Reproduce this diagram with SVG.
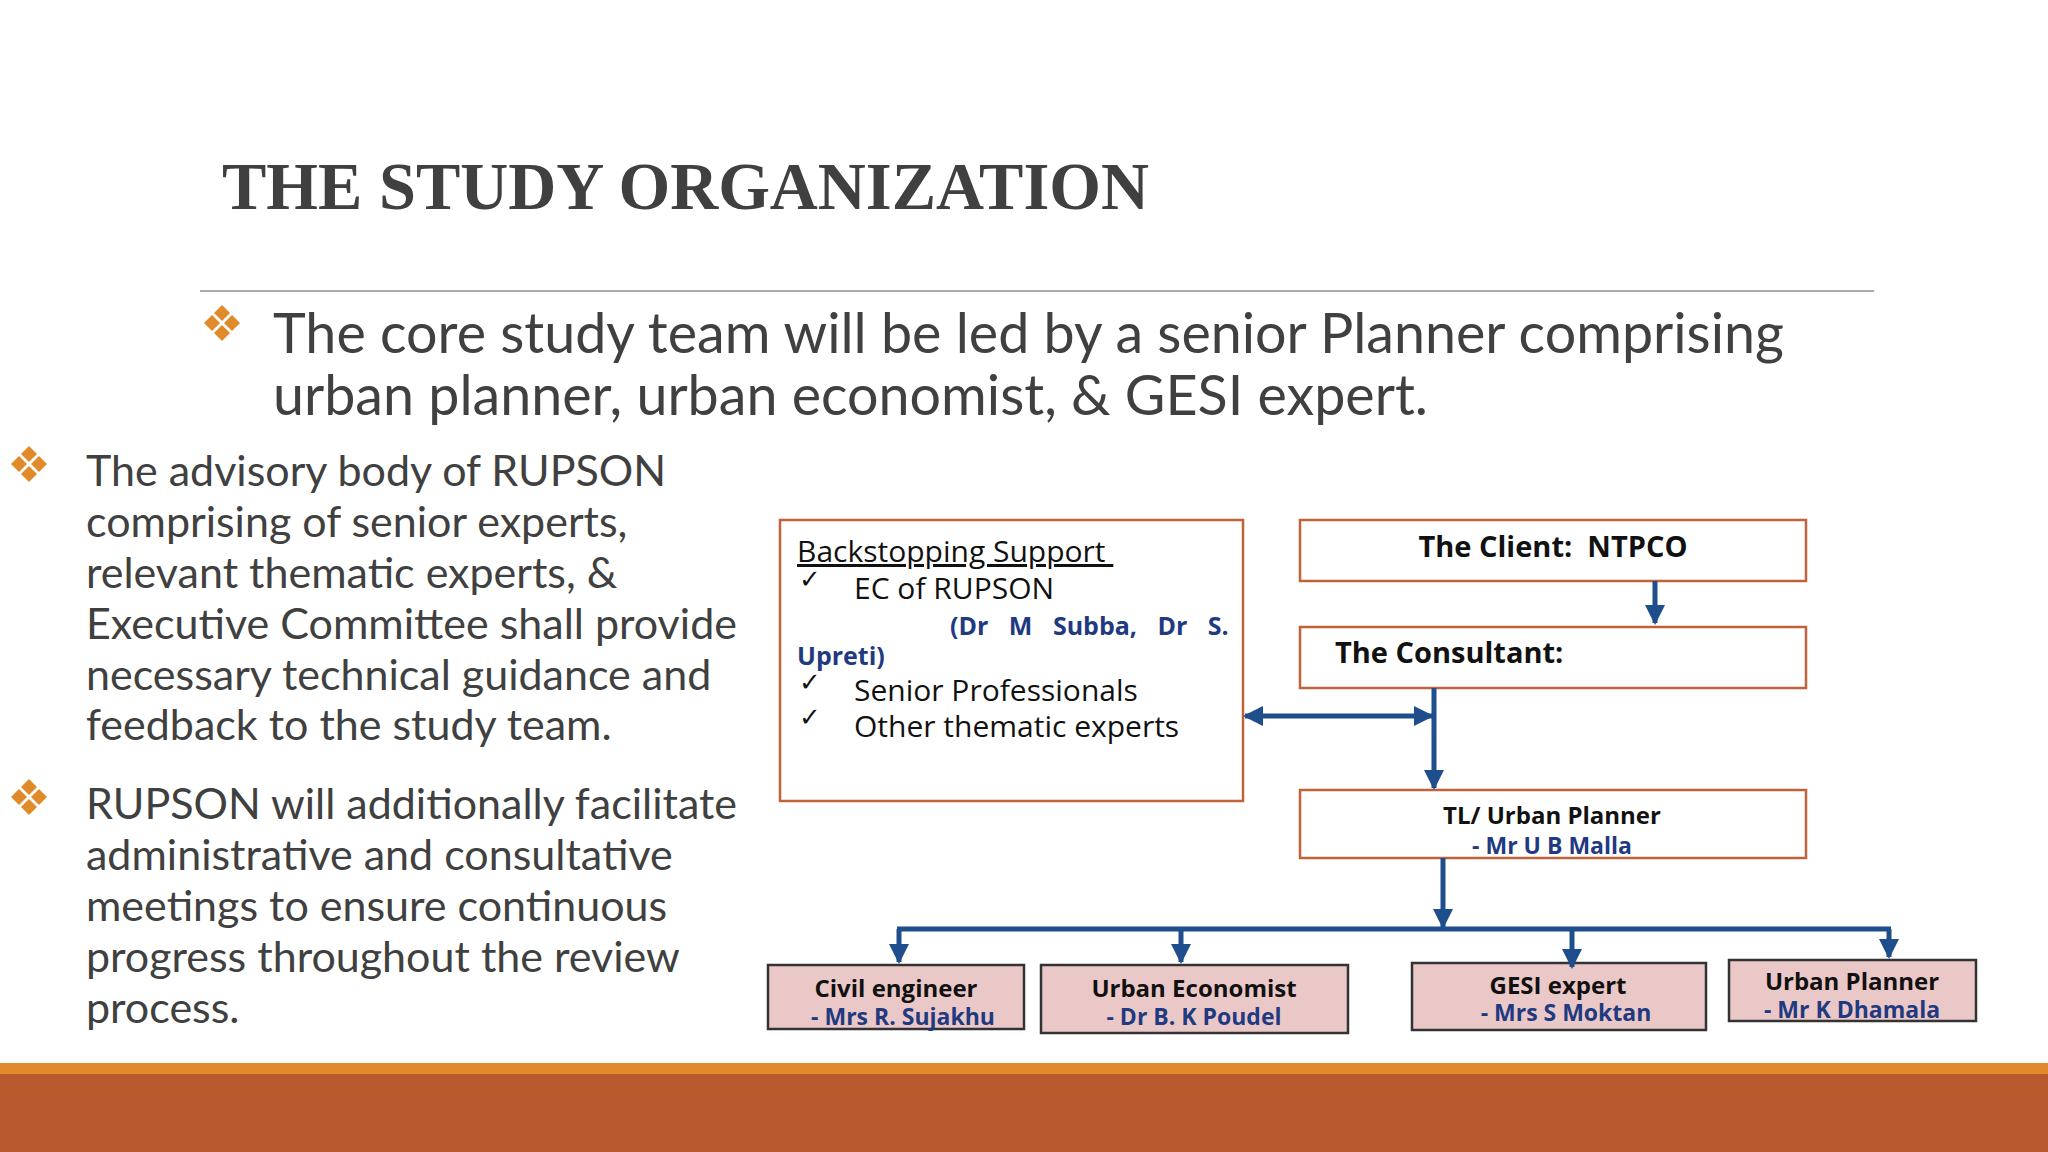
<svg xmlns="http://www.w3.org/2000/svg" width="2048" height="1152" viewBox="0 0 2048 1152">
<defs>
<marker id="ah" viewBox="0 0 10 10" refX="9" refY="5" markerWidth="4" markerHeight="4" orient="auto-start-reverse"><path d="M0,0 L10,5 L0,10 z" fill="#1F4E8C"/></marker>
<g id="dia"><path d="M0,-18 L8,-10 L0,-2 L-8,-10 z M-10,-8 L-2,0 L-10,8 L-18,0 z M10,-8 L18,0 L10,8 L2,0 z M0,2 L8,10 L0,18 L-8,10 z" fill="#E08A2A"/></g>
</defs>
<style>
.body{font-family:Lato,"Open Sans",sans-serif;fill:#404040}
.ob{stroke:#C0623A;stroke-width:2.5;fill:#fff}
.pb{stroke:#333;stroke-width:2.5;fill:#EBC8C8}
.t{font-family:"Open Sans",sans-serif;fill:#111;font-size:29px;font-weight:bold}
.n{font-family:"Open Sans",sans-serif;fill:#1F3A80;font-size:23px;font-weight:bold;text-anchor:middle}
.s{font-family:"Open Sans",sans-serif;fill:#111;font-size:24px;font-weight:bold;text-anchor:middle}
.c{stroke:#1F4E8C;stroke-width:5;fill:none}
.bs{font-family:"Open Sans",sans-serif;fill:#111;font-size:30px}
.ck{font-family:"DejaVu Sans",sans-serif;fill:#111;font-size:26px}
</style>
<rect width="2048" height="1152" fill="#fff"/>
<text x="222" y="209" font-family="Liberation Serif,serif" font-weight="bold" font-size="68" fill="#404040" textLength="927" lengthAdjust="spacingAndGlyphs">THE STUDY ORGANIZATION</text>
<line x1="200" y1="291" x2="1874" y2="291" stroke="#aaa" stroke-width="2"/>
<use href="#dia" x="222" y="323"/>
<text class="body" font-size="55.6"><tspan x="273" y="353">The core study team will be led by a senior Planner comprising</tspan><tspan x="273" y="415">urban planner, urban economist, &amp; GESI expert.</tspan></text>
<use href="#dia" x="29" y="464"/>
<text class="body" font-size="43"><tspan x="86" y="486">The advisory body of RUPSON</tspan><tspan x="86" y="537">comprising of senior experts,</tspan><tspan x="86" y="588">relevant thematic experts, &amp;</tspan><tspan x="86" y="639">Executive Committee shall provide</tspan><tspan x="86" y="690">necessary technical guidance and</tspan><tspan x="86" y="740">feedback to the study team.</tspan></text>
<use href="#dia" x="29" y="797"/>
<text class="body" font-size="43"><tspan x="86" y="819">RUPSON will additionally facilitate</tspan><tspan x="86" y="870">administrative and consultative</tspan><tspan x="86" y="921">meetings to ensure continuous</tspan><tspan x="86" y="972">progress throughout the review</tspan><tspan x="86" y="1023">process.</tspan></text>
<rect x="0" y="1063" width="2048" height="11" fill="#E08A2A"/>
<rect x="0" y="1074" width="2048" height="78" fill="#B85A2E"/>
<g id="backstop"><rect class="ob" x="780" y="520" width="463" height="281"/>
<text class="bs" x="797" y="562" font-size="35" text-decoration="underline" xml:space="preserve">Backstopping Support </text>
<text class="ck" x="799" y="588">✓</text>
<text class="bs" x="854" y="599">EC of RUPSON</text>
<text x="950" y="635" font-family="Open Sans,sans-serif" font-weight="bold" font-size="25" fill="#1F3A80" word-spacing="14">(Dr M Subba, Dr S.</text>
<text x="797" y="665" font-family="Open Sans,sans-serif" font-weight="bold" font-size="25" fill="#1F3A80">Upreti)</text>
<text class="ck" x="799" y="691">✓</text>
<text class="bs" x="854" y="701">Senior Professionals</text>
<text class="ck" x="799" y="726">✓</text>
<text class="bs" x="854" y="737">Other thematic experts</text></g>
<g id="client"><rect class="ob" x="1300" y="520" width="506" height="61"/><text class="t" x="1553" y="557" text-anchor="middle" xml:space="preserve">The Client:  NTPCO</text></g>
<g id="consultant"><rect class="ob" x="1300" y="627" width="506" height="61"/><text class="t" x="1335" y="663">The Consultant:</text></g>
<g id="tl"><rect class="ob" x="1300" y="790" width="506" height="68"/><text class="s" x="1552" y="824" font-size="26">TL/ Urban Planner</text><text class="n" x="1552" y="854" font-size="26">- Mr U B Malla</text></g>
<g id="civil"><rect class="pb" x="768" y="965" width="256" height="64"/><text class="s" x="896" y="997">Civil engineer</text><text class="n" x="903" y="1025">- Mrs R. Sujakhu</text></g>
<g id="econ"><rect class="pb" x="1041" y="965" width="307" height="68"/><text class="s" x="1194" y="997">Urban Economist</text><text class="n" x="1194" y="1025">- Dr B. K Poudel</text></g>
<g id="gesi"><rect class="pb" x="1412" y="963" width="294" height="67"/><text class="s" x="1558" y="994">GESI expert</text><text class="n" x="1566" y="1021">- Mrs S Moktan</text></g>
<g id="up"><rect class="pb" x="1729" y="960" width="247" height="61"/><text class="s" x="1852" y="990">Urban Planner</text><text class="n" x="1852" y="1018">- Mr K Dhamala</text></g>
<g id="connectors">
<line class="c" x1="1655" y1="581" x2="1655" y2="623" marker-end="url(#ah)"/>
<line class="c" x1="1434" y1="688" x2="1434" y2="788" marker-end="url(#ah)"/>
<line class="c" x1="1245" y1="716" x2="1432" y2="716" marker-start="url(#ah)" marker-end="url(#ah)"/>
<line class="c" x1="1443" y1="858" x2="1443" y2="927" marker-end="url(#ah)"/>
<line class="c" x1="897" y1="929" x2="1891" y2="929"/>
<line class="c" x1="899" y1="929" x2="899" y2="962" marker-end="url(#ah)"/>
<line class="c" x1="1181" y1="929" x2="1181" y2="962" marker-end="url(#ah)"/>
<line class="c" x1="1572" y1="929" x2="1572" y2="967" marker-end="url(#ah)"/>
<line class="c" x1="1889" y1="929" x2="1889" y2="957" marker-end="url(#ah)"/>
</g>
</svg>
